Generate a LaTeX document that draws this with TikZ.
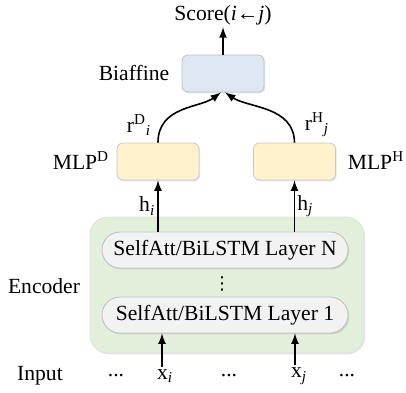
\documentclass[tikz,border=0pt]{standalone}
\usepackage{fontspec}
\setmainfont{Liberation Serif}
\newfontfamily\dotsfont{DejaVu Sans}
\definecolor{biafblue}{HTML}{DEE8F5}
\definecolor{mlpyellow}{HTML}{FFF2CC}
\definecolor{encgreen}{HTML}{E2EFDA}
\definecolor{layergrey}{HTML}{F2F2F2}
\tikzset{
  shadowed/.style={preaction={fill=black,opacity=0.10,transform canvas={xshift=0.6pt,yshift=-0.7pt}}},
  biafbox/.style={draw=black!25,fill=biafblue,rounded corners=3pt,minimum width=41pt,minimum height=18.5pt,shadowed},
  mlpbox/.style={draw=black!22,fill=mlpyellow,rounded corners=3pt,minimum width=41pt,minimum height=18.5pt,shadowed},
  encbox/.style={draw=black!12,fill=encgreen,rounded corners=9pt,minimum width=137pt,minimum height=68pt,shadowed},
  layerbox/.style={draw=black!25,fill=layergrey,rounded corners=9pt,minimum width=123pt,minimum height=18pt,inner sep=0pt,shadowed},
  txt/.style={inner sep=1pt},
  conn/.style={->,line width=0.8pt}
}
\begin{document}
\begin{tikzpicture}[>=latex,x=0.5pt,y=-0.5pt,font=\fontsize{10.8pt}{13pt}\selectfont]
\useasboundingbox (0,0) rectangle (406,392);
% encoder
\node[encbox] (enc) at (227,285) {};
\node[layerbox] (layer1) at (225,315) {SelfAtt/BiLSTM Layer 1};
\node[layerbox] (layerN) at (225,250) {SelfAtt/BiLSTM Layer N};
\node[txt,font=\dotsfont\fontsize{9pt}{10pt}\selectfont] (vd) at (222,284) {⋮};
\node[txt] (enclab) at (44,286) {Encoder};
% input
\node[txt] (inlab) at (40,376) {Input};
\node[txt] (d1) at (116,376) {...};
\node[txt] (xi) at (165,376) {x\textsubscript{\textit{i}}};
\node[txt] (d2) at (229,376) {...};
\node[txt] (xj) at (299,376) {x\textsubscript{\textit{j}}};
\node[txt] (d3) at (347,376) {...};
% MLPs
\node[mlpbox] (mlpD) at (158,161.5) {};
\node[mlpbox] (mlpH) at (294.5,161.5) {};
\node[txt] (mlpDlab) at (81,161) {MLP\textsuperscript{D}};
\node[txt] (mlpHlab) at (376,161) {MLP\textsuperscript{H}};
% biaffine
\node[biafbox] (biaf) at (223,73.5) {};
\node[txt] (biaflab) at (134,73) {Biaffine};
\node[txt] (score) at (223,15) {Score(\textit{i}←\textit{j})};
\node[txt] (rD) at (139,125) {r\textsuperscript{D}\textsubscript{\textit{i}}};
\node[txt] (rH) at (317,125) {r\textsuperscript{H}\textsubscript{\textit{j}}};
% arrows
\draw[conn] ([xshift=-1.5pt]xi.north) -- ([xshift=-1.5pt]xi.north |- layer1.south);
\draw[conn] ([xshift=-2pt]xj.north) -- ([xshift=-2pt]xj.north |- layer1.south);
\draw[conn] (layerN.north -| mlpD.south) -- node[txt,left,pos=0.5]{h\textsubscript{\textit{i}}} (mlpD.south);
\draw[conn] (layerN.north -| mlpH.south) -- node[txt,right,pos=0.5]{h\textsubscript{\textit{j}}} (mlpH.south);
\draw[conn] (mlpD.north) .. controls (158,106) and (200,108) .. ([xshift=-1pt]biaf.south);
\draw[conn] (mlpH.north) .. controls (294,106) and (248,108) .. ([xshift=1pt]biaf.south);
\draw[conn] (biaf.north) -- (score.south);
\end{tikzpicture}
\end{document}
